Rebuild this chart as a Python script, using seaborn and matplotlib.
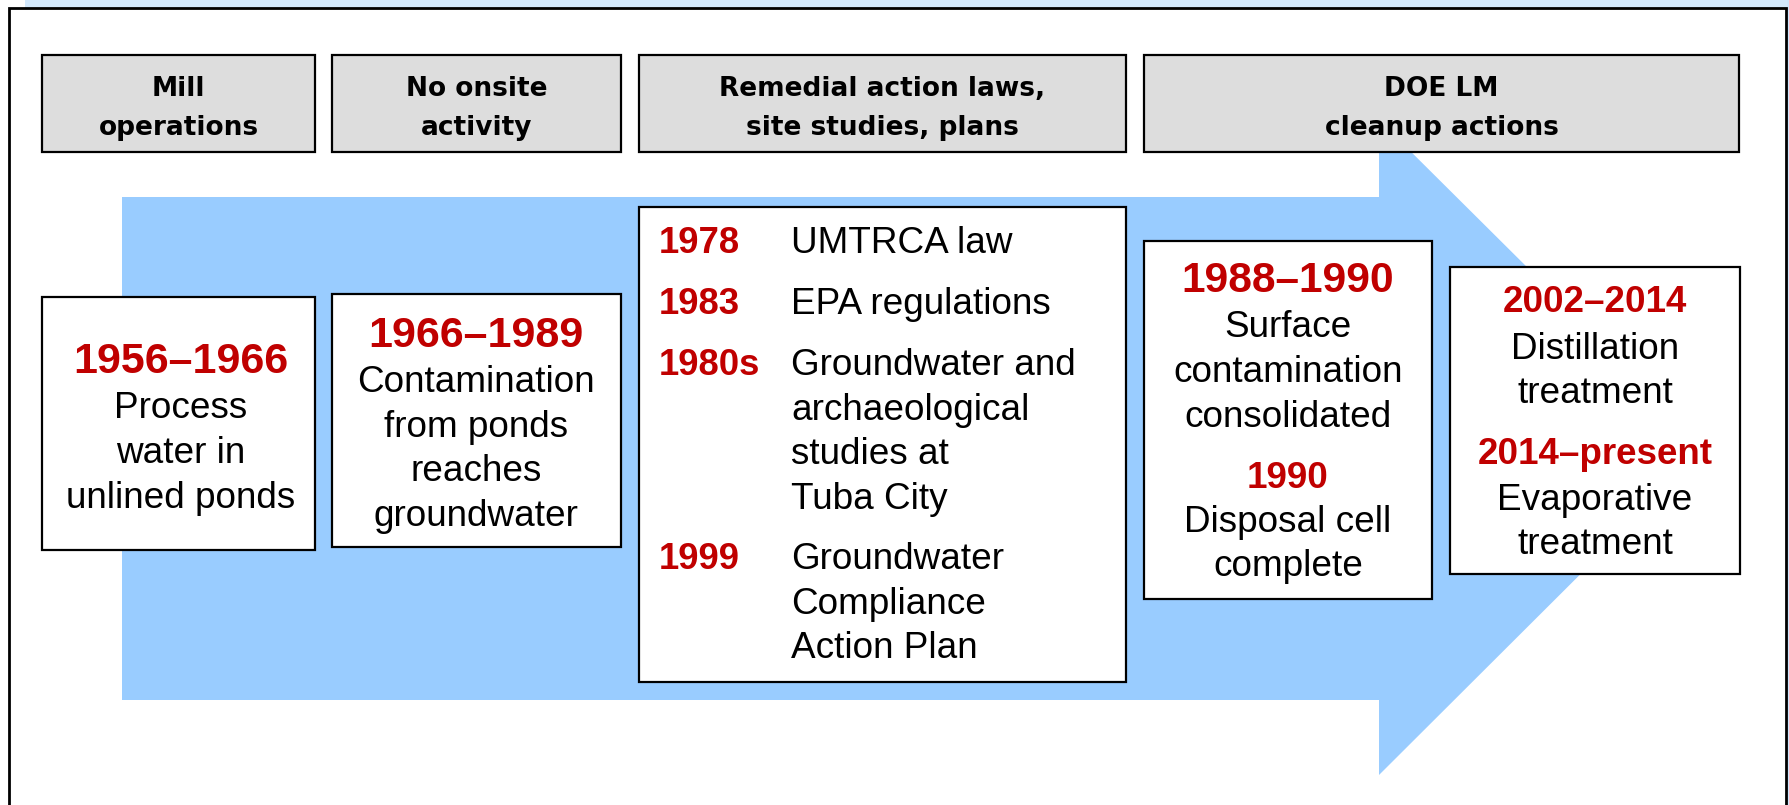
import matplotlib
matplotlib.use("Agg")
import matplotlib.pyplot as plt
from matplotlib.patches import Rectangle, Polygon
import seaborn as sns

# ---------------- data (text content) ----------------
phase_labels = [["Mill", "operations"],
                ["No onsite", "activity"],
                ["Remedial action laws,", "site studies, plans"],
                ["DOE LM", "cleanup actions"]]

mill_period = "1956–1966"
mill_lines = ["Process", "water in", "unlined ponds"]

idle_period = "1966–1989"
idle_lines = ["Contamination", "from ponds", "reaches", "groundwater"]

law_years = ["1978", "1983", "1980s", "1999"]
law_items = [["UMTRCA law"],
             ["EPA regulations"],
             ["Groundwater and", "archaeological", "studies at", "Tuba City"],
             ["Groundwater", "Compliance", "Action Plan"]]

cleanup_periods = ["1988–1990", "1990"]
cleanup_items = [["Surface", "contamination", "consolidated"],
                 ["Disposal cell", "complete"]]

treatment_periods = ["2002–2014", "2014–present"]
treatment_items = [["Distillation", "treatment"],
                   ["Evaporative", "treatment"]]

# ---------------- style ----------------
sns.set_theme(style="white")
plt.rcParams["font.family"] = ["Liberation Sans", "DejaVu Sans"]

RED = "#C00000"
BLUE = "#99CCFF"
GRAY = "#DDDDDD"
BODY = 26.6
W, H = 1790, 805

fig = plt.figure(figsize=(17.9, 8.05), dpi=100)
fig.patch.set_facecolor("white")
ax = fig.add_axes([0, 0, 1, 1])
ax.set_xlim(0, W)
ax.set_ylim(H, 0)
ax.axis("off")

# light background strips outside the frame
ax.add_patch(Rectangle((25, 0), W - 25, 8, facecolor="#D3E9FD", edgecolor="none", zorder=0))
ax.add_patch(Rectangle((1787, 0), 3, H, facecolor="#CFE6FD", edgecolor="none", zorder=0))
# outer frame
ax.add_patch(Rectangle((9, 8), 1777, 830, facecolor="white", edgecolor="black",
                       linewidth=2, zorder=1))

# big blue arrow
arrow = Polygon([(122, 197), (1379, 197), (1379, 120), (1708, 447),
                 (1379, 775), (1379, 700), (122, 700)],
                closed=True, facecolor=BLUE, edgecolor="none", zorder=2)
ax.add_patch(arrow)

# header boxes
header_boxes = [(42, 315), (332, 621), (639, 1126), (1144, 1739)]
for (x0, x1), lines in zip(header_boxes, phase_labels):
    ax.add_patch(Rectangle((x0, 55), x1 - x0, 97, facecolor=GRAY, edgecolor="black",
                           linewidth=1.6, zorder=3))
    cx = (x0 + x1) / 2
    for ln, yb in zip(lines, [96, 135]):
        ax.text(cx, yb, ln, ha="center", va="baseline", fontsize=19,
                fontweight="bold", family=["DejaVu Sans"], color="black", zorder=4)


def box(x0, y0, x1, y1):
    ax.add_patch(Rectangle((x0, y0), x1 - x0, y1 - y0, facecolor="white",
                           edgecolor="black", linewidth=1.6, zorder=3))


def block(cx, year, ysize, ybase, lines, lbase, step=44.5, size=BODY):
    ax.text(cx, ybase, year, ha="center", va="baseline", fontsize=ysize,
            fontweight="bold", color=RED, zorder=4)
    for i, ln in enumerate(lines):
        ax.text(cx, lbase + i * step, ln, ha="center", va="baseline",
                fontsize=size, color="black", zorder=4)


# Box A
box(42, 297, 315, 550)
block(181, mill_period, 31, 373, mill_lines, 418, step=45)

# Box B
box(332, 294, 621, 547)
block(476, idle_period, 31, 347, idle_lines, 392, step=44.5)

# Box C
box(639, 207, 1126, 682)
law_base = [253, 314, 375, 569]
for yr, items, yb in zip(law_years, law_items, law_base):
    ax.text(659, yb, yr, ha="left", va="baseline", fontsize=26.3,
            fontweight="bold", color=RED, zorder=4)
    for i, ln in enumerate(items):
        ax.text(791, yb + i * 44.7, ln, ha="left", va="baseline",
                fontsize=BODY, color="black", zorder=4)

# Box D
box(1144, 241, 1432, 599)
block(1288, cleanup_periods[0], 30.6, 292, cleanup_items[0], 337, step=45)
block(1288, cleanup_periods[1], 26.5, 488, cleanup_items[1], 532, step=43.5)

# Box E
box(1450, 267, 1740, 574)
block(1595, treatment_periods[0], 26.5, 312, treatment_items[0], 359, step=44)
block(1595, treatment_periods[1], 26.5, 464, treatment_items[1], 510, step=44)

fig.savefig("out.png", dpi=100, facecolor=fig.get_facecolor())
